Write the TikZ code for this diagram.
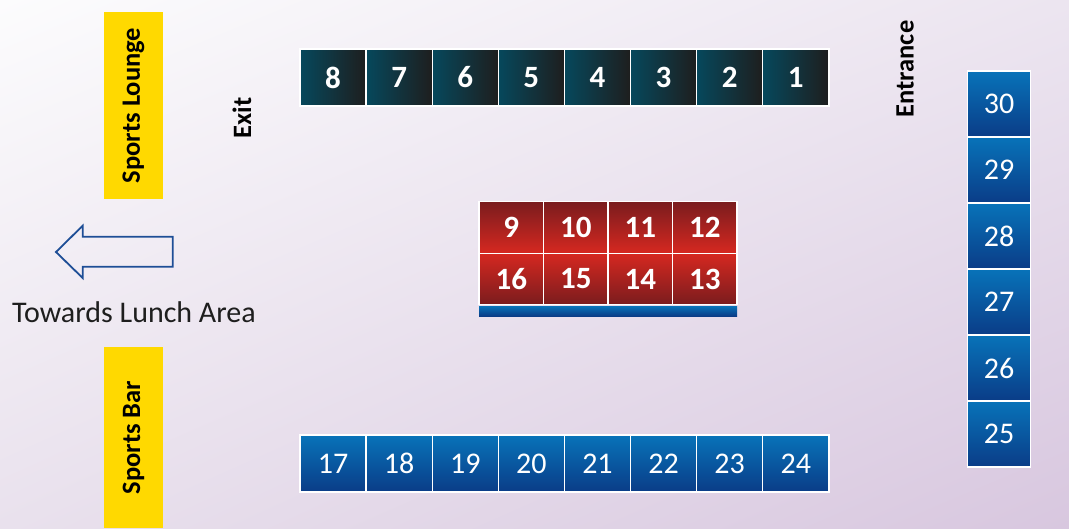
\documentclass[tikz,border=0pt]{standalone}
\usepackage{fontspec}
\setmainfont{Carlito}
\usetikzlibrary{shadings}
\definecolor{bgTL}{RGB}{252,252,253}
\definecolor{bgTR}{RGB}{236,229,240}
\definecolor{bgBL}{RGB}{233,225,237}
\definecolor{bgBR}{RGB}{216,199,223}
\definecolor{tealL}{RGB}{6,72,92}
\definecolor{tealR}{RGB}{30,30,30}
\definecolor{redDk}{RGB}{122,28,30}
\definecolor{redLt}{RGB}{214,40,32}
\definecolor{blueTop}{RGB}{8,115,185}
\definecolor{blueBot}{RGB}{10,60,135}
\definecolor{signYel}{RGB}{255,217,0}
\definecolor{arrowBlue}{RGB}{30,78,150}
\definecolor{inkGray}{RGB}{30,30,30}
\begin{document}
\begin{tikzpicture}[x=1pt,y=-1pt,
    seat/.style={draw=white,line width=1.4pt,inner sep=0pt,text=white,
      minimum width=66.1pt,minimum height=57pt},
    darkseat/.style={seat,left color=tealL,right color=tealR,
      font=\bfseries\fontsize{31}{31}\selectfont},
    blueseat/.style={seat,top color=blueTop,bottom color=blueBot,
      font=\fontsize{30}{30}\selectfont},
    redtop/.style={seat,top color=redDk,bottom color=redLt,
      minimum width=64.5pt,minimum height=51.5pt,
      font=\bfseries\fontsize{31}{31}\selectfont},
    redbot/.style={redtop,top color=redLt,bottom color=redDk},
    sign/.style={rotate=90,inner sep=0pt,text=black,
      font=\bfseries\fontsize{26.5}{26.5}\selectfont},
    venue/.style={sign,fill=signYel,minimum height=59pt}]
  \useasboundingbox (0,0) rectangle (1069,528);
  \shade[upper left=bgTL,upper right=bgTR,lower left=bgBL,lower right=bgBR]
    (0,0) rectangle (1069,528);
  % top row
  \foreach \n in {1,...,8} {
    \node[darkseat] (t\n) at ({333.05+66.1*(8-\n)},77.5) {\n};
  }
  % centre block
  \foreach \k in {1,...,4} {
    \pgfmathtruncatemacro\up{8+\k}
    \pgfmathtruncatemacro\dn{17-\k}
    \node[redtop] (c\up) at ({479+64.5*(\k-0.5)},227.5) {\up};
    \node[redbot] (c\dn) at ({479+64.5*(\k-0.5)},279) {\dn};
  }
  \node[seat,draw=none,top color=blueTop,bottom color=blueBot,
    minimum width=258pt,minimum height=10pt] (bar) at (608,311) {};
  % bottom row
  \foreach \n in {17,...,24} {
    \node[blueseat] (b\n) at ({333.05+66.1*(\n-17)},463.5) {\n};
  }
  % right column
  \foreach \n in {25,...,30} {
    \node[blueseat,minimum width=63.5pt,minimum height=66pt] (r\n)
      at (999,{104+66*(30-\n)}) {\n};
  }
  % signs
  \node[venue,minimum width=187pt] (lounge) at (133.5,105.5) {Sports Lounge};
  \node[venue,minimum width=181pt] (sbar) at (133.5,437.5) {Sports Bar};
  \node[sign] (exit) at (242,118) {Exit};
  \node[sign] (entrance) at (905,69) {Entrance};
  \draw[arrowBlue,line width=1.8pt,line join=miter]
    (56,252) -- (82.7,225.7) -- (82.7,236.7) -- (172.7,236.7)
    -- (172.7,266.7) -- (82.7,266.7) -- (82.7,278) -- cycle;
  \node[anchor=base,inner sep=0pt,text=inkGray,font=\fontsize{30}{30}\selectfont]
    (lunch) at (134,322) {Towards Lunch Area};
\end{tikzpicture}
\end{document}
